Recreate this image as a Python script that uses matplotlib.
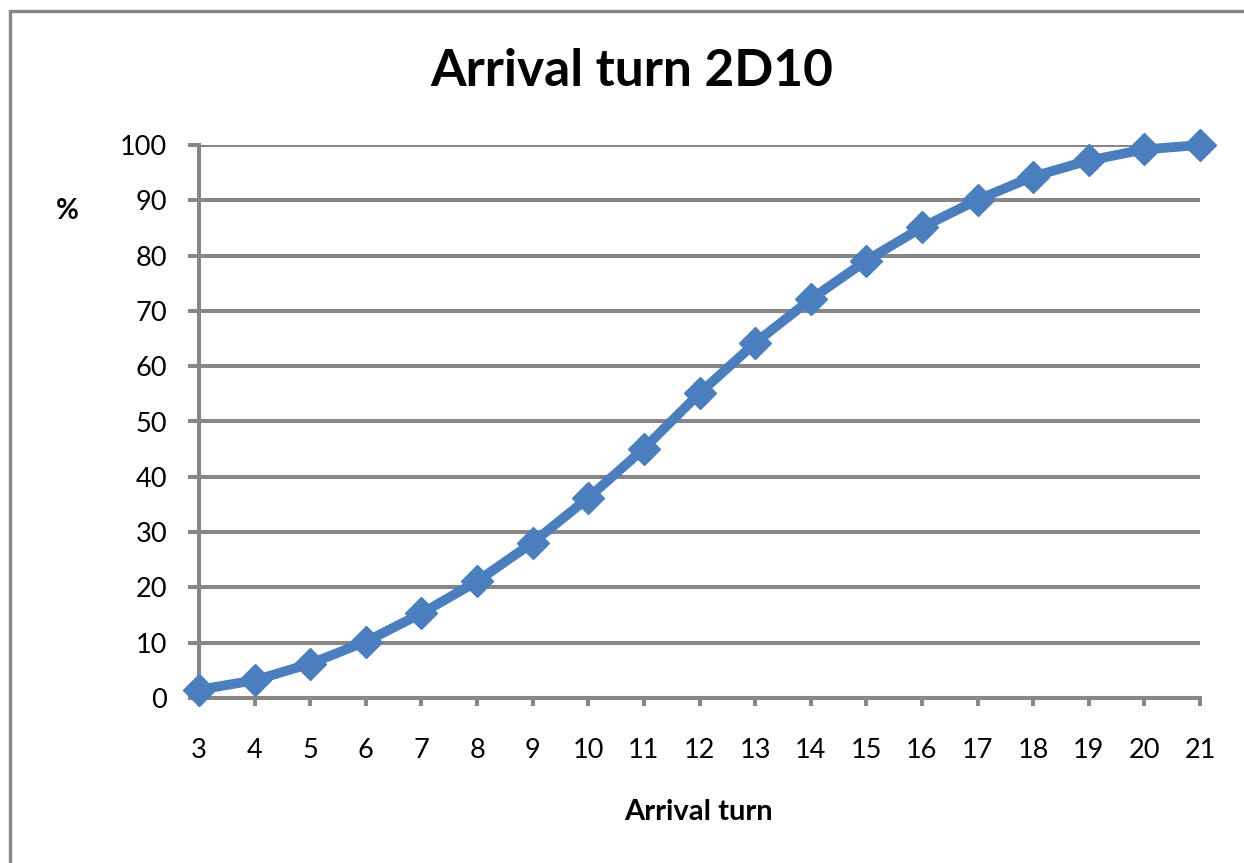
import matplotlib
matplotlib.use("Agg")
import matplotlib.pyplot as plt
from matplotlib.patches import Rectangle

# Chart data
turns = [3, 4, 5, 6, 7, 8, 9, 10, 11, 12, 13, 14, 15, 16, 17, 18, 19, 20, 21]
percent = [1.5, 3.2, 6.2, 10.2, 15.3, 21.1, 28.1, 36.2, 45.1, 55.1, 64.2, 72.1,
           79.1, 85.1, 90.1, 94.3, 97.2, 99.2, 100.0]
y_ticks = [0, 10, 20, 30, 40, 50, 60, 70, 80, 90, 100]

plt.rcParams["font.family"] = ["Lato", "DejaVu Sans"]

W, H = 1244, 863
fig = plt.figure(figsize=(W / 100, H / 100), dpi=100)
fig.patch.set_facecolor("white")

grid_col = "#878787"
line_col = "#4A7EBD"

# outer chart border (only left and top visible in the crop)
fig.patches.append(Rectangle((10 / W, -0.2), 1.5, 1.2 - 11 / H,
                             transform=fig.transFigure, fill=False,
                             edgecolor=grid_col, linewidth=2.4, clip_on=False))

ax = fig.add_axes([199 / W, 1 - 698 / H, (1200 - 199) / W, (698 - 145) / H])
ax.set_xlim(3, 21)
ax.set_ylim(0, 100)

ax.plot(turns, percent, color=line_col, linewidth=7, marker="D",
        markersize=16, markeredgecolor=line_col, markerfacecolor=line_col,
        clip_on=False, zorder=5, solid_joinstyle="round")

ax.set_yticks(y_ticks)
ax.set_xticks(turns)
ax.yaxis.grid(True, color=grid_col, linewidth=2.9)
ax.set_axisbelow(True)
for s in ["top", "right"]:
    ax.spines[s].set_visible(False)
for s in ["left", "bottom"]:
    ax.spines[s].set_color(grid_col)
    ax.spines[s].set_linewidth(2.9)

ax.tick_params(axis="y", direction="out", length=8, width=2.9, color=grid_col,
               pad=15, labelsize=19.5)
ax.tick_params(axis="x", direction="out", length=6, width=2.9, color=grid_col,
               pad=23, labelsize=19.5)

fig.text(632 / W, 1 - 72 / H, "Arrival turn 2D10", ha="center", va="center",
         fontsize=37, fontweight="bold")
fig.text(67 / W, 1 - 211 / H, "%", ha="center", va="center",
         fontsize=20, fontweight="bold")
fig.text(698 / W, 1 - 812 / H, "Arrival turn", ha="center", va="center",
         fontsize=21, fontweight="bold")

fig.savefig("out.png", dpi=100)
